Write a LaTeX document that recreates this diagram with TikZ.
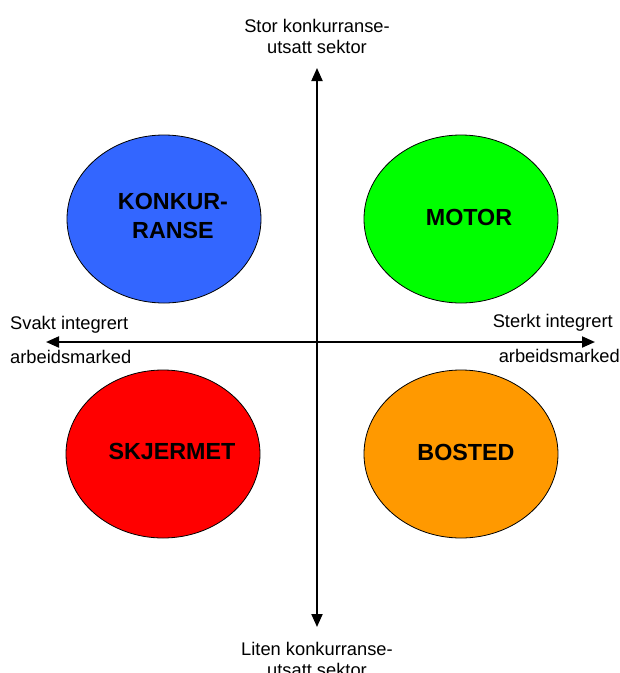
\documentclass[tikz,border=0pt]{standalone}
\usepackage{fontspec}
\setmainfont{Liberation Sans}
\usetikzlibrary{arrows.meta,shapes.geometric}
\definecolor{cblue}{HTML}{3366FF}
\definecolor{cgreen}{HTML}{00FF00}
\definecolor{cred}{HTML}{FF0000}
\definecolor{corange}{HTML}{FF9900}
\tikzset{
  field/.style={ellipse, draw=black, line width=0.8pt, minimum width=194pt, minimum height=168pt, inner sep=0pt},
  fieldtext/.style={font=\fontsize{23.3}{29}\selectfont\bfseries, inner sep=0pt, align=center},
  axislabel/.style={font=\fontsize{18.3}{22}\selectfont, inner sep=0pt},
  axis/.style={line width=2pt, {Triangle[length=13pt,width=11pt]}-{Triangle[length=13pt,width=11pt]}}
}
\begin{document}
\begin{tikzpicture}[x=1pt,y=-1pt]
\useasboundingbox (0,0) rectangle (620,673);
% ellipses
\node[field, fill=cblue]   (konk) at (164,219) {};
\node[field, fill=cgreen]  (moto) at (461,219) {};
\node[field, fill=cred]    (skje) at (163,454) {};
\node[field, fill=corange] (bost) at (461,454) {};
% ellipse texts
\node[fieldtext] (tkonk) at (173,216) {KONKUR-\\RANSE};
\node[fieldtext, anchor=base] (tmoto) at (469,225) {MOTOR};
\node[fieldtext, anchor=base] (tskje) at (172,459) {SKJERMET};
\node[fieldtext, anchor=base] (tbost) at (466,460) {BOSTED};
% axes
\coordinate (atop) at (317,68);
\coordinate (abot) at (317,627);
\coordinate (aleft) at (46,342);
\coordinate (aright) at (595,342);
\draw[axis] (abot) -- (atop);
\draw[axis] (aleft) -- (aright);
% axis labels
\node[axislabel, anchor=base] (st1) at (317,32) {Stor konkurranse-};
\node[axislabel, anchor=base] (st2) at (317,53) {utsatt sektor};
\node[axislabel, anchor=base] (li1) at (317,655) {Liten konkurranse-};
\node[axislabel, anchor=base] (li2) at (317,676) {utsatt sektor};
\node[axislabel, anchor=base west] (sv1) at (10,329) {Svakt integrert};
\node[axislabel, anchor=base west] (sv2) at (10,363) {arbeidsmarked};
\node[axislabel, anchor=base east] (se1) at (613,327) {Sterkt integrert};
\node[axislabel, anchor=base east] (se2) at (620,362) {arbeidsmarked};
\end{tikzpicture}
\end{document}
